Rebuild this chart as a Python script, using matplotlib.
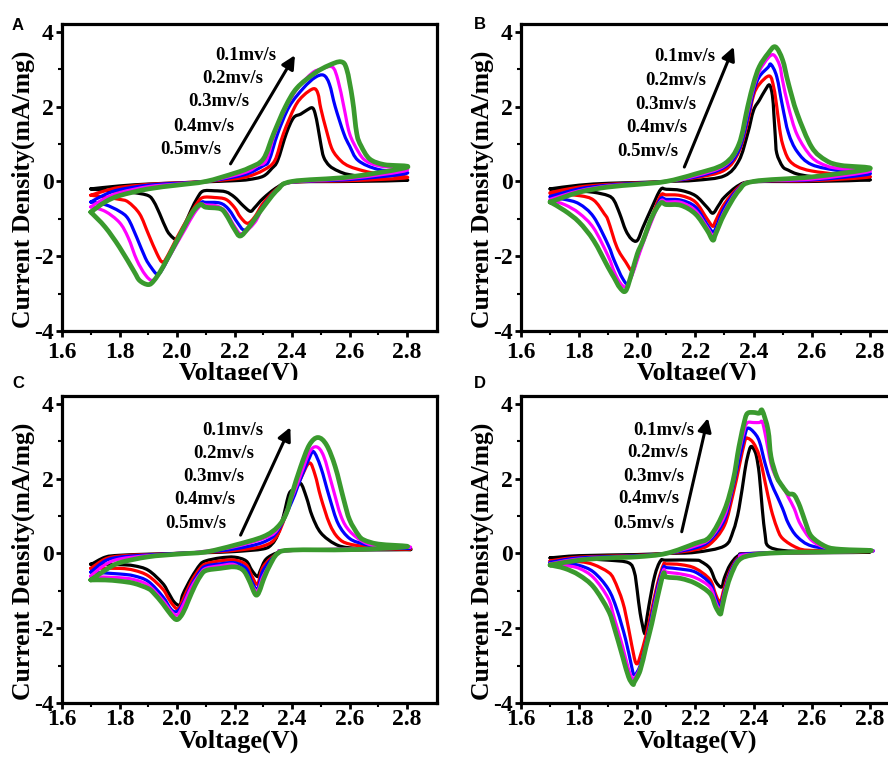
import matplotlib
matplotlib.use('Agg')
import matplotlib.pyplot as plt
from matplotlib.path import Path
from matplotlib.patches import PathPatch
from matplotlib.transforms import Bbox, TransformedBbox

plt.rcParams['font.family'] = 'Liberation Serif'
plt.rcParams['font.weight'] = 'bold'
plt.rcParams['axes.labelweight'] = 'bold'
plt.rcParams['axes.unicode_minus'] = False

# curve order: 0.5, 0.4, 0.3, 0.2, 0.1 mV/s
colors = ['#000000', '#ff0000', '#0000ff', '#ff00ff', '#3a9a2e']
widths = [2.3, 2.3, 2.3, 2.3, 3.4]
rate_labels = ['0.1mv/s', '0.2mv/s', '0.3mv/s', '0.4mv/s', '0.5mv/s']

# ---- panel A: (voltage V, current mA/mg), anodic 1.7->2.8 then cathodic 2.8->1.7
A_anodic = [
    [(1.70,-0.20),(1.80,-0.12),(1.90,-0.07),(2.00,-0.04),(2.10,-0.01),(2.20,0.02),(2.25,0.05),(2.30,0.14),(2.33,0.35),(2.35,0.56),(2.38,1.28),(2.405,1.70),(2.43,1.80),(2.45,1.90),(2.47,1.97),(2.48,1.82),(2.49,1.45),(2.50,1.00),(2.51,0.65),(2.53,0.42),(2.56,0.28),(2.60,0.18),(2.70,0.08),(2.80,0.03)],
    [(1.70,-0.37),(1.75,-0.25),(1.80,-0.16),(1.90,-0.08),(2.00,-0.04),(2.10,0.00),(2.20,0.07),(2.25,0.14),(2.30,0.30),(2.34,0.56),(2.37,1.28),(2.41,2.00),(2.44,2.30),(2.475,2.48),(2.49,2.35),(2.50,1.95),(2.52,1.35),(2.54,0.85),(2.57,0.55),(2.60,0.40),(2.65,0.28),(2.70,0.20),(2.80,0.10)],
    [(1.70,-0.55),(1.75,-0.35),(1.80,-0.22),(1.90,-0.10),(2.00,-0.05),(2.10,0.00),(2.20,0.12),(2.25,0.22),(2.30,0.42),(2.32,0.56),(2.35,1.28),(2.39,2.00),(2.44,2.50),(2.48,2.78),(2.51,2.84),(2.53,2.60),(2.55,2.00),(2.58,1.28),(2.60,0.95),(2.63,0.56),(2.70,0.32),(2.80,0.22)],
    [(1.70,-0.68),(1.75,-0.45),(1.80,-0.30),(1.90,-0.14),(2.00,-0.07),(2.10,0.00),(2.20,0.16),(2.25,0.28),(2.28,0.42),(2.31,0.56),(2.34,1.28),(2.38,2.00),(2.42,2.50),(2.47,2.90),(2.50,3.00),(2.54,3.06),(2.56,2.70),(2.58,2.00),(2.60,1.28),(2.63,0.80),(2.655,0.56),(2.70,0.42),(2.80,0.30)],
    [(1.70,-0.82),(1.75,-0.55),(1.80,-0.38),(1.90,-0.20),(2.00,-0.10),(2.10,0.00),(2.20,0.22),(2.25,0.36),(2.30,0.60),(2.336,1.28),(2.377,2.00),(2.417,2.50),(2.48,2.90),(2.527,3.10),(2.57,3.20),(2.59,3.00),(2.61,2.20),(2.625,1.28),(2.64,0.95),(2.67,0.60),(2.72,0.45),(2.80,0.38)],
]
A_cathodic = [
    [(2.80,0.00),(2.60,0.00),(2.40,-0.02),(2.35,-0.15),(2.30,-0.45),(2.27,-0.70),(2.255,-0.80),(2.23,-0.65),(2.20,-0.42),(2.17,-0.28),(2.13,-0.25),(2.09,-0.26),(2.07,-0.45),(2.05,-0.75),(2.03,-1.10),(2.01,-1.42),(2.00,-1.55),(1.985,-1.50),(1.965,-1.31),(1.94,-0.87),(1.92,-0.55),(1.90,-0.38),(1.85,-0.30),(1.80,-0.27),(1.75,-0.24),(1.70,-0.20)],
    [(2.80,0.04),(2.60,0.02),(2.40,-0.02),(2.35,-0.18),(2.30,-0.58),(2.27,-0.95),(2.245,-1.12),(2.22,-0.95),(2.20,-0.70),(2.17,-0.48),(2.13,-0.43),(2.09,-0.43),(2.07,-0.58),(2.04,-0.95),(2.00,-1.50),(1.97,-1.95),(1.95,-2.16),(1.93,-1.93),(1.90,-1.40),(1.87,-0.87),(1.83,-0.55),(1.80,-0.48),(1.75,-0.42),(1.70,-0.37)],
    [(2.80,0.10),(2.60,0.05),(2.40,-0.02),(2.35,-0.20),(2.30,-0.65),(2.27,-1.05),(2.235,-1.30),(2.21,-1.10),(2.18,-0.75),(2.15,-0.58),(2.10,-0.56),(2.085,-0.56),(2.06,-0.80),(2.03,-1.20),(2.00,-1.62),(1.97,-2.05),(1.945,-2.40),(1.93,-2.48),(1.91,-2.30),(1.89,-2.05),(1.86,-1.50),(1.83,-1.00),(1.80,-0.80),(1.75,-0.62),(1.70,-0.55)],
    [(2.80,0.18),(2.60,0.08),(2.40,-0.02),(2.35,-0.22),(2.30,-0.68),(2.27,-1.10),(2.225,-1.40),(2.20,-1.20),(2.17,-0.82),(2.14,-0.66),(2.10,-0.63),(2.085,-0.62),(2.06,-0.85),(2.03,-1.25),(2.00,-1.65),(1.97,-2.05),(1.94,-2.45),(1.915,-2.65),(1.89,-2.50),(1.86,-2.10),(1.83,-1.50),(1.80,-1.10),(1.75,-0.80),(1.70,-0.68)],
    [(2.80,0.28),(2.60,0.12),(2.40,0.00),(2.35,-0.22),(2.30,-0.69),(2.25,-1.22),(2.22,-1.46),(2.20,-1.28),(2.17,-0.88),(2.15,-0.73),(2.10,-0.69),(2.08,-0.62),(2.05,-0.87),(2.00,-1.58),(1.95,-2.30),(1.92,-2.65),(1.90,-2.76),(1.87,-2.65),(1.85,-2.40),(1.80,-1.76),(1.75,-1.22),(1.70,-0.82)],
]

# ---- panel B
B_anodic = [
    [(1.70,-0.20),(1.80,-0.10),(1.90,-0.05),(2.00,-0.03),(2.10,0.00),(2.20,0.03),(2.30,0.15),(2.35,0.56),(2.38,1.28),(2.40,1.90),(2.42,2.17),(2.44,2.44),(2.455,2.58),(2.465,2.30),(2.47,1.80),(2.475,1.20),(2.48,0.75),(2.50,0.40),(2.52,0.30),(2.55,0.20),(2.60,0.13),(2.70,0.07),(2.80,0.04)],
    [(1.70,-0.30),(1.80,-0.15),(1.90,-0.08),(2.00,-0.04),(2.10,0.00),(2.20,0.10),(2.30,0.30),(2.35,0.80),(2.38,1.60),(2.40,2.30),(2.42,2.60),(2.455,2.82),(2.47,2.50),(2.48,2.00),(2.49,1.40),(2.50,1.00),(2.52,0.60),(2.55,0.40),(2.60,0.28),(2.70,0.18),(2.80,0.12)],
    [(1.70,-0.40),(1.80,-0.20),(1.90,-0.10),(2.00,-0.05),(2.10,0.00),(2.20,0.12),(2.30,0.38),(2.35,0.85),(2.38,1.70),(2.40,2.40),(2.42,2.80),(2.45,3.05),(2.46,3.13),(2.48,2.80),(2.50,2.00),(2.52,1.30),(2.55,0.80),(2.60,0.45),(2.70,0.28),(2.80,0.20)],
    [(1.70,-0.48),(1.80,-0.25),(1.90,-0.12),(2.00,-0.07),(2.10,0.00),(2.20,0.15),(2.30,0.42),(2.35,0.95),(2.38,1.85),(2.40,2.50),(2.42,2.95),(2.45,3.30),(2.47,3.38),(2.49,3.10),(2.50,2.70),(2.52,2.00),(2.55,1.25),(2.60,0.65),(2.65,0.42),(2.70,0.34),(2.80,0.27)],
    [(1.70,-0.55),(1.80,-0.29),(1.90,-0.15),(2.00,-0.08),(2.10,0.00),(2.20,0.20),(2.30,0.47),(2.35,1.00),(2.38,2.00),(2.40,2.62),(2.42,3.07),(2.45,3.42),(2.475,3.60),(2.50,3.25),(2.52,2.62),(2.55,1.82),(2.60,0.92),(2.65,0.56),(2.70,0.43),(2.80,0.34)],
]
B_cathodic = [
    [(2.80,0.00),(2.60,0.00),(2.40,-0.01),(2.35,-0.10),(2.30,-0.42),(2.28,-0.64),(2.26,-0.85),(2.24,-0.69),(2.20,-0.38),(2.15,-0.24),(2.10,-0.21),(2.08,-0.22),(2.05,-0.70),(2.02,-1.22),(2.00,-1.58),(1.98,-1.54),(1.96,-1.30),(1.94,-0.87),(1.92,-0.51),(1.90,-0.38),(1.85,-0.29),(1.80,-0.26),(1.70,-0.20)],
    [(2.80,0.05),(2.60,0.02),(2.40,0.00),(2.35,-0.15),(2.30,-0.60),(2.27,-1.05),(2.26,-1.20),(2.24,-1.00),(2.20,-0.55),(2.15,-0.38),(2.10,-0.36),(2.08,-0.38),(2.05,-0.95),(2.02,-1.55),(2.00,-1.98),(1.984,-2.39),(1.96,-2.15),(1.93,-1.76),(1.90,-1.05),(1.887,-0.87),(1.85,-0.50),(1.80,-0.38),(1.70,-0.32)],
    [(2.80,0.12),(2.60,0.04),(2.40,0.00),(2.35,-0.18),(2.30,-0.70),(2.27,-1.25),(2.26,-1.35),(2.24,-1.15),(2.20,-0.68),(2.15,-0.50),(2.10,-0.48),(2.08,-0.47),(2.05,-1.00),(2.02,-1.60),(2.00,-2.05),(1.97,-2.70),(1.95,-2.60),(1.92,-2.10),(1.90,-1.70),(1.85,-0.95),(1.80,-0.60),(1.75,-0.48),(1.70,-0.42)],
    [(2.80,0.18),(2.60,0.06),(2.40,0.00),(2.35,-0.20),(2.30,-0.80),(2.27,-1.35),(2.26,-1.45),(2.24,-1.22),(2.20,-0.78),(2.15,-0.56),(2.10,-0.55),(2.08,-0.53),(2.05,-1.05),(2.02,-1.65),(2.00,-2.10),(1.98,-2.55),(1.96,-2.82),(1.94,-2.70),(1.92,-2.40),(1.90,-2.00),(1.85,-1.25),(1.80,-0.85),(1.75,-0.62),(1.70,-0.50)],
    [(2.80,0.25),(2.60,0.12),(2.40,0.00),(2.35,-0.24),(2.30,-0.87),(2.27,-1.40),(2.26,-1.57),(2.24,-1.30),(2.20,-0.87),(2.15,-0.64),(2.10,-0.62),(2.08,-0.58),(2.05,-0.96),(2.02,-1.58),(2.00,-1.94),(1.98,-2.48),(1.96,-2.93),(1.94,-2.84),(1.92,-2.57),(1.90,-2.30),(1.85,-1.58),(1.80,-1.09),(1.75,-0.78),(1.70,-0.55)],
]

# ---- panel C
C_anodic = [
    [(1.70,-0.30),(1.75,-0.10),(1.80,-0.05),(1.90,-0.02),(2.00,0.00),(2.10,0.02),(2.20,0.05),(2.30,0.12),(2.33,0.25),(2.35,0.50),(2.37,1.00),(2.39,1.60),(2.41,1.72),(2.43,1.87),(2.45,1.50),(2.47,1.00),(2.50,0.55),(2.55,0.25),(2.60,0.15),(2.70,0.12),(2.80,0.10)],
    [(1.70,-0.40),(1.75,-0.15),(1.80,-0.07),(1.90,-0.03),(2.00,0.00),(2.10,0.03),(2.20,0.08),(2.30,0.20),(2.35,0.50),(2.40,1.50),(2.43,2.00),(2.46,2.42),(2.48,2.10),(2.50,1.50),(2.53,0.80),(2.56,0.42),(2.60,0.25),(2.70,0.15),(2.80,0.12)],
    [(1.70,-0.50),(1.75,-0.20),(1.80,-0.10),(1.90,-0.04),(2.00,0.00),(2.10,0.04),(2.20,0.12),(2.30,0.30),(2.35,0.60),(2.40,1.40),(2.43,2.00),(2.46,2.55),(2.475,2.72),(2.50,2.30),(2.53,1.50),(2.56,0.80),(2.60,0.40),(2.65,0.25),(2.70,0.18),(2.80,0.14)],
    [(1.70,-0.60),(1.75,-0.30),(1.80,-0.15),(1.90,-0.06),(2.00,-0.02),(2.10,0.06),(2.20,0.18),(2.30,0.40),(2.35,0.65),(2.40,1.50),(2.43,2.10),(2.46,2.70),(2.485,2.85),(2.51,2.60),(2.54,1.80),(2.57,1.00),(2.60,0.60),(2.65,0.30),(2.70,0.20),(2.80,0.16)],
    [(1.70,-0.71),(1.75,-0.45),(1.80,-0.25),(1.90,-0.09),(2.00,-0.02),(2.10,0.04),(2.20,0.22),(2.30,0.45),(2.35,0.71),(2.38,1.07),(2.40,1.60),(2.43,2.32),(2.46,2.90),(2.49,3.10),(2.52,2.90),(2.55,2.32),(2.58,1.43),(2.60,0.90),(2.63,0.50),(2.65,0.36),(2.70,0.25),(2.80,0.18)],
]
C_cathodic = [
    [(2.80,0.10),(2.40,0.08),(2.35,0.02),(2.31,-0.15),(2.29,-0.45),(2.28,-0.62),(2.26,-0.45),(2.24,-0.20),(2.20,-0.10),(2.15,-0.12),(2.10,-0.20),(2.08,-0.30),(2.05,-0.65),(2.02,-1.10),(2.01,-1.38),(1.99,-1.30),(1.97,-1.05),(1.95,-0.80),(1.90,-0.45),(1.85,-0.33),(1.80,-0.30),(1.70,-0.28)],
    [(2.80,0.10),(2.40,0.08),(2.35,0.00),(2.30,-0.35),(2.28,-0.82),(2.26,-0.60),(2.24,-0.30),(2.20,-0.18),(2.15,-0.20),(2.10,-0.28),(2.08,-0.40),(2.05,-0.75),(2.02,-1.25),(2.005,-1.48),(1.99,-1.42),(1.97,-1.20),(1.95,-0.95),(1.90,-0.60),(1.85,-0.45),(1.80,-0.40),(1.70,-0.40)],
    [(2.80,0.10),(2.40,0.08),(2.35,0.00),(2.30,-0.45),(2.28,-0.95),(2.26,-0.75),(2.24,-0.40),(2.20,-0.25),(2.15,-0.28),(2.10,-0.34),(2.08,-0.48),(2.05,-0.85),(2.02,-1.35),(2.00,-1.55),(1.98,-1.50),(1.95,-1.15),(1.90,-0.75),(1.85,-0.60),(1.80,-0.55),(1.70,-0.50)],
    [(2.80,0.12),(2.40,0.08),(2.35,0.00),(2.30,-0.60),(2.28,-1.00),(2.26,-0.85),(2.24,-0.55),(2.20,-0.30),(2.15,-0.33),(2.10,-0.40),(2.08,-0.55),(2.05,-0.90),(2.02,-1.40),(2.00,-1.65),(1.98,-1.55),(1.95,-1.25),(1.90,-0.85),(1.85,-0.70),(1.80,-0.65),(1.70,-0.62)],
    [(2.80,0.12),(2.60,0.10),(2.40,0.09),(2.35,0.00),(2.32,-0.36),(2.30,-0.71),(2.29,-0.94),(2.28,-1.10),(2.27,-1.07),(2.25,-0.71),(2.23,-0.45),(2.20,-0.36),(2.15,-0.40),(2.10,-0.46),(2.08,-0.62),(2.06,-0.90),(2.04,-1.25),(2.02,-1.60),(2.00,-1.77),(1.98,-1.65),(1.95,-1.34),(1.92,-1.07),(1.90,-0.94),(1.85,-0.80),(1.80,-0.74),(1.75,-0.71),(1.70,-0.71)],
]

# ---- panel D
D_anodic = [
    [(1.70,-0.12),(1.80,-0.06),(2.00,-0.03),(2.10,0.00),(2.20,0.03),(2.30,0.20),(2.33,0.60),(2.35,1.20),(2.37,2.20),(2.38,2.60),(2.39,2.85),(2.40,2.80),(2.41,2.60),(2.42,2.10),(2.43,1.20),(2.44,0.50),(2.45,0.20),(2.50,0.08),(2.60,0.05),(2.80,0.03)],
    [(1.70,-0.20),(1.80,-0.10),(2.00,-0.05),(2.10,0.00),(2.20,0.10),(2.25,0.25),(2.30,0.75),(2.33,1.60),(2.35,2.30),(2.37,3.00),(2.38,3.08),(2.40,2.95),(2.42,2.60),(2.44,1.90),(2.46,1.20),(2.48,0.70),(2.50,0.40),(2.55,0.15),(2.60,0.08),(2.80,0.05)],
    [(1.70,-0.24),(1.80,-0.12),(2.00,-0.06),(2.10,0.00),(2.20,0.15),(2.25,0.35),(2.30,0.90),(2.33,1.80),(2.35,2.50),(2.37,3.15),(2.38,3.35),(2.40,3.25),(2.42,3.00),(2.44,2.40),(2.46,1.90),(2.48,1.55),(2.50,1.20),(2.52,0.80),(2.55,0.45),(2.60,0.20),(2.70,0.10),(2.80,0.06)],
    [(1.70,-0.28),(1.80,-0.15),(2.00,-0.08),(2.10,0.00),(2.20,0.20),(2.25,0.40),(2.30,1.00),(2.33,1.90),(2.35,2.70),(2.37,3.35),(2.38,3.50),(2.40,3.50),(2.42,3.50),(2.43,3.52),(2.44,3.20),(2.46,2.40),(2.48,2.00),(2.50,1.80),(2.52,1.50),(2.54,1.20),(2.56,0.80),(2.60,0.35),(2.65,0.15),(2.70,0.10),(2.80,0.06)],
    [(1.70,-0.31),(1.80,-0.18),(1.90,-0.12),(2.00,-0.09),(2.10,0.00),(2.20,0.27),(2.25,0.45),(2.30,1.16),(2.33,1.96),(2.35,2.86),(2.37,3.57),(2.38,3.75),(2.40,3.77),(2.42,3.75),(2.43,3.82),(2.45,3.30),(2.46,2.59),(2.48,2.05),(2.50,1.79),(2.52,1.60),(2.54,1.56),(2.56,1.25),(2.58,0.80),(2.60,0.45),(2.65,0.18),(2.70,0.11),(2.80,0.07)],
]
D_cathodic = [
    [(2.80,0.02),(2.40,0.00),(2.35,-0.05),(2.32,-0.30),(2.30,-0.65),(2.29,-0.90),(2.27,-0.75),(2.25,-0.40),(2.22,-0.22),(2.20,-0.18),(2.10,-0.18),(2.08,-0.20),(2.06,-0.60),(2.04,-1.40),(2.03,-1.90),(2.025,-2.14),(2.01,-1.60),(2.00,-1.00),(1.99,-0.50),(1.97,-0.25),(1.90,-0.18),(1.80,-0.14),(1.70,-0.12)],
    [(2.80,0.03),(2.40,0.00),(2.35,-0.10),(2.32,-0.45),(2.30,-0.90),(2.285,-1.30),(2.27,-1.10),(2.25,-0.70),(2.20,-0.40),(2.15,-0.30),(2.10,-0.28),(2.09,-0.30),(2.07,-0.80),(2.05,-1.50),(2.03,-2.20),(2.01,-2.75),(2.00,-2.95),(1.99,-2.80),(1.97,-2.00),(1.95,-1.30),(1.92,-0.70),(1.90,-0.50),(1.85,-0.30),(1.80,-0.22),(1.70,-0.20)],
    [(2.80,0.04),(2.40,0.00),(2.35,-0.12),(2.32,-0.50),(2.30,-1.00),(2.285,-1.42),(2.27,-1.20),(2.25,-0.80),(2.20,-0.50),(2.15,-0.42),(2.10,-0.38),(2.09,-0.38),(2.07,-0.90),(2.05,-1.65),(2.03,-2.40),(2.01,-3.00),(1.99,-3.25),(1.98,-3.00),(1.96,-2.30),(1.93,-1.50),(1.90,-0.95),(1.85,-0.50),(1.80,-0.32),(1.75,-0.27),(1.70,-0.24)],
    [(2.80,0.04),(2.40,-0.02),(2.35,-0.15),(2.32,-0.55),(2.30,-1.05),(2.285,-1.50),(2.27,-1.30),(2.25,-0.90),(2.20,-0.65),(2.15,-0.55),(2.10,-0.50),(2.09,-0.45),(2.07,-1.00),(2.05,-1.75),(2.03,-2.45),(2.01,-3.05),(1.99,-3.35),(1.985,-3.38),(1.97,-3.10),(1.95,-2.50),(1.92,-1.70),(1.90,-1.20),(1.85,-0.65),(1.80,-0.40),(1.75,-0.32),(1.70,-0.28)],
    [(2.80,0.05),(2.50,0.02),(2.40,-0.04),(2.35,-0.18),(2.32,-0.63),(2.30,-1.16),(2.29,-1.52),(2.285,-1.62),(2.27,-1.43),(2.25,-1.07),(2.20,-0.80),(2.15,-0.67),(2.10,-0.63),(2.09,-0.54),(2.07,-1.16),(2.05,-1.88),(2.03,-2.50),(2.01,-3.13),(1.99,-3.44),(1.985,-3.50),(1.97,-3.30),(1.95,-2.77),(1.92,-1.96),(1.90,-1.52),(1.85,-0.90),(1.80,-0.58),(1.75,-0.40),(1.70,-0.31)],
]


def smooth_path(pts):
    # Catmull-Rom through the read points, drawn as cubic Bezier pieces
    n = len(pts)
    verts = [pts[0]]
    codes = [Path.MOVETO]
    for i in range(n - 1):
        p0 = pts[i - 1] if i > 0 else pts[i]
        p1 = pts[i]
        p2 = pts[i + 1]
        p3 = pts[i + 2] if i + 2 < n else pts[i + 1]
        c1 = (p1[0] + (p2[0] - p0[0]) / 6, p1[1] + (p2[1] - p0[1]) / 6)
        c2 = (p2[0] - (p3[0] - p1[0]) / 6, p2[1] - (p3[1] - p1[1]) / 6)
        verts += [c1, c2, p2]
        codes += [Path.CURVE4] * 3
    return Path(verts, codes)


W, H = 888, 759
fig = plt.figure(figsize=(W / 100, H / 100), dpi=100)

# layout: letter, data, axes box in pixels (left, top, right, bottom), arrow, text anchors
panels = [
    ('A', A_anodic, A_cathodic, (62, 24, 437, 331), ((2.186, 0.47), (2.41, 3.375)),
     [2.134, 2.087, 2.038, 1.988, 1.94], [3.375, 2.75, 2.125, 1.48, 0.86], (12, 30), 0.472, 4, -0.101),
    ('B', B_anodic, B_cathodic, (521, 24, 900, 331), ((2.162, 0.385), (2.332, 3.6)),
     [2.059, 2.028, 1.993, 1.961, 1.93], [3.34, 2.71, 2.07, 1.43, 0.79], (474, 29), 0.464, 4, -0.101),
    ('C', C_anodic, C_cathodic, (62, 396, 437, 703), ((2.221, 0.49), (2.394, 3.375)),
     [2.087, 2.055, 2.021, 1.989, 1.959], [3.30, 2.68, 2.05, 1.43, 0.79], (12, 388), 0.472, 0.5, -0.086),
    ('D', D_anodic, D_cathodic, (521, 396, 900, 703), ((2.153, 0.58), (2.243, 3.62)),
     [1.987, 1.967, 1.952, 1.935, 1.919], [3.3, 2.7, 2.05, 1.46, 0.8], (474, 388), 0.464, 0.5, -0.086),
]

for letter, anodic, cathodic, box, arrow, tx, ty, lpos, xlab_x, xpad, xlab_y in panels:
    l, t, r, b = box
    ax = fig.add_axes([l / W, 1 - b / H, (r - l) / W, (b - t) / H])
    for k in range(5):
        pts = anodic[k] + cathodic[k][1:]
        ax.add_patch(PathPatch(smooth_path(pts), fill=False, edgecolor=colors[k],
                               lw=widths[k], joinstyle='round', capstyle='round'))
    ax.set_xlim(1.6, 2.904)
    ax.set_ylim(-4, 4.21)
    ax.set_xticks([1.6, 1.8, 2.0, 2.2, 2.4, 2.6, 2.8])
    ax.set_xticklabels(['1.6', '1.8', '2.0', '2.2', '2.4', '2.6', '2.8'])
    ax.set_xticks([1.7, 1.9, 2.1, 2.3, 2.5, 2.7], minor=True)
    ax.set_yticks([-4, -2, 0, 2, 4])
    ax.set_yticks([-3, -1, 1, 3], minor=True)
    ax.tick_params(which='major', direction='out', length=4, width=2, labelsize=17, pad=2)
    ax.tick_params(axis='x', which='major', pad=xpad)
    ax.tick_params(which='minor', direction='out', length=3, width=1.5)
    for s in ax.spines.values():
        s.set_linewidth(2.3)
    ax.set_xlabel('Voltage(V)', fontsize=19)
    ax.xaxis.set_label_coords(xlab_x, xlab_y)
    ax.set_ylabel('Current Density(mA/mg)', fontsize=18.5)
    ax.yaxis.set_label_coords(-27 / (r - l), 0.462)
    # arrow and scan-rate labels
    ax.annotate('', xy=arrow[1], xytext=arrow[0],
                arrowprops=dict(arrowstyle='-|>', color='black', lw=2.2, mutation_scale=20,
                                shrinkA=0, shrinkB=0))
    for lab, x, y in zip(rate_labels, tx, ty):
        ax.text(x, y, lab, fontsize=13.5, fontweight='bold', ha='left', va='center')
    fig.text(lpos[0] / W, 1 - lpos[1] / H, letter, fontsize=12, fontweight='bold',
             family='Liberation Sans', ha='left', va='baseline')
    if letter in ('A', 'B'):
        # upper row labels are cut by the lower row
        xl = ax.xaxis.label
        xl.set_clip_on(True)
        xl.set_clip_box(TransformedBbox(Bbox([[0, 1 - 380 / H], [1, 1]]), fig.transFigure))

fig.savefig('out.png', dpi=100)
